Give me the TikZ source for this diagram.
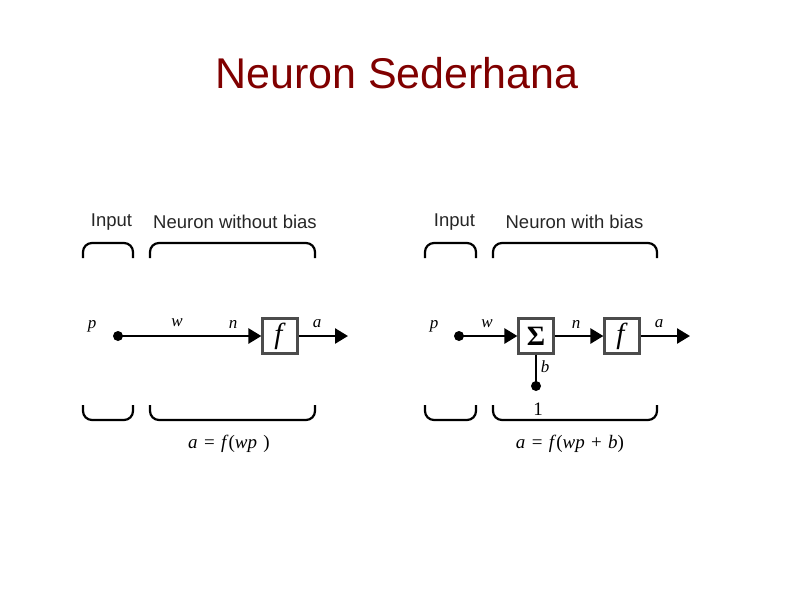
\documentclass[tikz,border=0pt]{standalone}
\usepackage{fontspec}
\setmainfont{Liberation Sans}
\newfontfamily\vfont{Liberation Serif}
\usepackage{xcolor}
\usetikzlibrary{arrows.meta,positioning}
\definecolor{titlered}{RGB}{128,0,0}
\newcommand{\vv}[1]{\textit{#1}}

\begin{document}
\begin{tikzpicture}[
  x=1pt, y=-1pt,
  lbl/.style={font=\fontsize{18.5}{20}\selectfont, text=black!85, inner sep=0pt},
  var/.style={font=\vfont\fontsize{17}{19}\selectfont, inner sep=0pt},
  eqn/.style={font=\vfont\fontsize{19}{21}\selectfont, inner sep=0pt},
  fbox/.style={draw=black!70, line width=2.2pt, minimum size=35pt, inner sep=0pt, font=\vfont\fontsize{29}{30}\selectfont},
  dot/.style={circle, fill, inner sep=0pt, minimum size=10pt},
  brc/.style={line width=2.2pt, rounded corners=9pt},
  arr/.style={line width=2.6pt, -{Triangle[length=13pt,width=15pt]}},
  wire/.style={line width=2.6pt}
]
\useasboundingbox (0,0) rectangle (794,595);
\node[font=\fontsize{43}{48}\selectfont, text=titlered] (title) at (397,73) {Neuron Sederhana};

% without bias
\node[lbl] (in1) at (111.5,222) {Input};
\node[lbl] (nb1) at (235,222) {Neuron without bias};
\draw[brc] (83,258) -- (83,243) -- (133,243) -- (133,258);
\draw[brc] (150,258) -- (150,243) -- (315,243) -- (315,258);
\draw[brc] (83,405) -- (83,420) -- (133,420) -- (133,405);
\draw[brc] (150,405) -- (150,420) -- (315,420) -- (315,405);
\node[var] (p1) at (92,326) {\vv{p}};
\node[dot] (d1) at (118,336) {};
\node[fbox] (f1) at (280,336) {\vv{f}};
\coordinate (o1) at (348,336);
\draw[arr] (d1.center) -- (f1);
\draw[arr] (f1) -- (o1);
\node[var] (w1) at (177,323) {\vv{w}};
\node[var] (n1) at (233,324) {\vv{n}};
\node[var] (a1) at (317,324) {\vv{a}};
\node[eqn] (eq1) at (229,444) {\vv{a}\,\,=\,\,\vv{f}(\vv{wp}\,\,)};

% with bias
\node[lbl] (in2) at (454.5,222) {Input};
\node[lbl] (nb2) at (574.5,222) {Neuron with bias};
\draw[brc] (425,258) -- (425,243) -- (476,243) -- (476,258);
\draw[brc] (493,258) -- (493,243) -- (657,243) -- (657,258);
\draw[brc] (425,405) -- (425,420) -- (476,420) -- (476,405);
\draw[brc] (493,405) -- (493,420) -- (657,420) -- (657,405);
\node[var] (p2) at (434,326) {\vv{p}};
\node[dot] (d2) at (459,336) {};
\node[fbox, font=\vfont\bfseries\fontsize{28}{30}\selectfont] (s2) at (536,336) {Σ};
\node[fbox] (f2) at (622,336) {\vv{f}};
\coordinate (o2) at (690,336);
\node[dot] (d3) at (536,386) {};
\draw[arr] (d2.center) -- (s2);
\draw[arr] (s2) -- (f2);
\draw[arr] (f2) -- (o2);
\draw[wire] (s2) -- (d3.center);
\node[var] (w2) at (487,324) {\vv{w}};
\node[var] (n2) at (576,324) {\vv{n}};
\node[var] (a2) at (659,324) {\vv{a}};
\node[var] (b2) at (545,367) {\vv{b}};
\node[var, font=\vfont\fontsize{19}{21}\selectfont] (one) at (538,409) {1};
\node[eqn] (eq2) at (570,444) {\vv{a}\,\,=\,\,\vv{f}(\vv{wp}\,\,+\,\,\vv{b})};
\end{tikzpicture}
\end{document}
